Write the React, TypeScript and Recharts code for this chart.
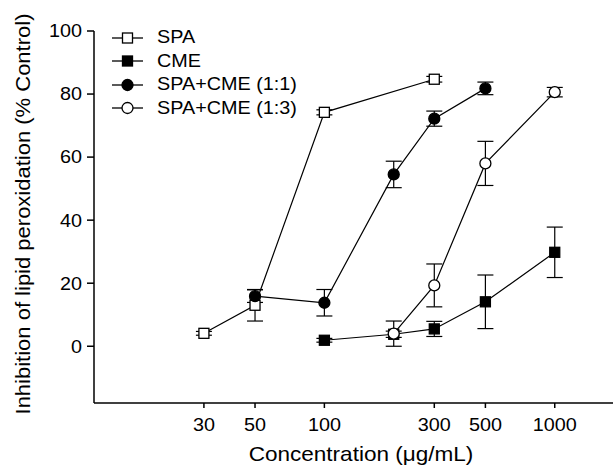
import React from 'react'
import { LineChart, Line, XAxis, YAxis, ErrorBar, Legend } from 'recharts'

// ── Data ───────────────────────────────────────────────────────

const X_TICKS = [30, 50, 100, 300, 500, 1000]
const Y_TICKS = [0, 20, 40, 60, 80, 100]

const SPA_X = [30, 50, 100, 300]
const SPA_Y = [4.1, 13, 74.2, 84.7]
const SPA_E = [0.6, 5, 0.8, 0.9]

const CME_X = [100, 200, 300, 500, 1000]
const CME_Y = [1.9, 3.8, 5.5, 14.1, 29.8]
const CME_E = [0.6, 1, 2.4, 8.5, 8]

const MIX11_X = [50, 100, 200, 300, 500]
const MIX11_Y = [15.9, 13.8, 54.5, 72.2, 81.8]
const MIX11_E = [2, 4.2, 4.2, 2.4, 2]

const MIX13_X = [200, 300, 500, 1000]
const MIX13_Y = [4, 19.3, 58, 80.6]
const MIX13_E = [4, 6.8, 7, 1.5]

type Kind = 'openSquare' | 'square' | 'circle' | 'openCircle'

const SERIES: { name: string; kind: Kind; xs: number[]; ys: number[]; es: number[] }[] = [
  { name: 'SPA', kind: 'openSquare', xs: SPA_X, ys: SPA_Y, es: SPA_E },
  { name: 'CME', kind: 'square', xs: CME_X, ys: CME_Y, es: CME_E },
  { name: 'SPA+CME (1:1)', kind: 'circle', xs: MIX11_X, ys: MIX11_Y, es: MIX11_E },
  { name: 'SPA+CME (1:3)', kind: 'openCircle', xs: MIX13_X, ys: MIX13_Y, es: MIX13_E },
]

const FONT = '"Liberation Sans", Arial, sans-serif'
const STRETCH = 1.1 // the scan's lettering is a bit wider than plain Arial

// ── Markers / text helpers ─────────────────────────────────────

function marker(kind: Kind, cx: number, cy: number, key?: string | number) {
  if (kind === 'openSquare' || kind === 'square') {
    return (
      <rect key={key} x={cx - 5} y={cy - 5} width={10} height={10}
        fill={kind === 'square' ? '#000' : '#fff'} stroke="#000" strokeWidth={1.3} />
    )
  }
  return (
    <circle key={key} cx={cx} cy={cy} r={5.5}
      fill={kind === 'circle' ? '#000' : '#fff'} stroke="#000" strokeWidth={1.3} />
  )
}

function XTick(props: any) {
  const { x, y, payload } = props
  return (
    <g transform={`translate(${x},${y}) scale(${STRETCH},1)`}>
      <text textAnchor="middle" dy="0.71em" fontSize={18} fontFamily={FONT} fill="#000">
        {payload.value}
      </text>
    </g>
  )
}

function YTick(props: any) {
  const { x, y, payload } = props
  return (
    <g transform={`translate(${x},${y}) scale(${STRETCH},1)`}>
      <text textAnchor="end" dy="0.355em" fontSize={18} fontFamily={FONT} fill="#000">
        {payload.value}
      </text>
    </g>
  )
}

function LegendBox() {
  return (
    <div style={{ fontFamily: FONT, fontSize: 18, color: '#000' }}>
      {SERIES.map((s) => (
        <div key={s.name} style={{ display: 'flex', alignItems: 'center', height: 23.5 }}>
          <svg width={36} height={16} style={{ marginRight: 9 }}>
            <line x1={0} y1={8} x2={31} y2={8} stroke="#000" strokeWidth={1.3} />
            {marker(s.kind, 15.5, 8)}
          </svg>
          <span style={{ display: 'inline-block', transform: `scaleX(${STRETCH})`, transformOrigin: 'left center', whiteSpace: 'nowrap' }}>
            {s.name}
          </span>
        </div>
      ))}
    </div>
  )
}

export default function App() {
  return (
    <div style={{ position: 'absolute', left: 0, top: 0, width: 613, height: 467, background: '#fff' }}>
      <LineChart width={613} height={467} margin={{ top: 31, right: 0, left: 0, bottom: 0 }}>
        <XAxis
          type="number"
          dataKey="x"
          scale="log"
          domain={[10, 1790]}
          ticks={X_TICKS}
          allowDataOverflow
          height={64}
          tickSize={5}
          tickMargin={10}
          stroke="#000"
          strokeWidth={1.5}
          tick={<XTick />}
          label={{
            content: () => (
              <text transform={`translate(361,454) scale(1.1,1)`} textAnchor="middle" dominantBaseline="central"
                fontSize={20.5} fontFamily={FONT} fill="#000">
                Concentration (μg/mL)
              </text>
            ),
          }}
        />
        <YAxis
          type="number"
          domain={[-18, 100]}
          ticks={Y_TICKS}
          allowDataOverflow
          width={94}
          tickSize={7}
          tickMargin={5}
          stroke="#000"
          strokeWidth={1.5}
          tick={<YTick />}
          label={{
            content: () => (
              <text transform="translate(23,214) rotate(-90) scale(1.1,1)" textAnchor="middle"
                dominantBaseline="central" fontSize={20} fontFamily={FONT} fill="#000">
                Inhibition of lipid peroxidation (% Control)
              </text>
            ),
          }}
        />
        <Legend
          layout="vertical"
          align="center"
          verticalAlign="middle"
          wrapperStyle={{ left: 112, top: 26, width: 220 }}
          content={() => <LegendBox />}
        />
        {SERIES.map((s) => (
          <Line
            key={s.name}
            name={s.name}
            data={s.xs.map((x, i) => ({ x, y: s.ys[i], e: s.es[i] }))}
            dataKey="y"
            stroke="#000"
            strokeWidth={1.2}
            isAnimationActive={false}
            dot={(p: any) => marker(s.kind, p.cx, p.cy, `${s.name}-${p.index}`)}
            activeDot={false}
          >
            <ErrorBar dataKey="e" direction="y" width={8} stroke="#000" strokeWidth={1.2} />
          </Line>
        ))}
      </LineChart>
    </div>
  )
}
